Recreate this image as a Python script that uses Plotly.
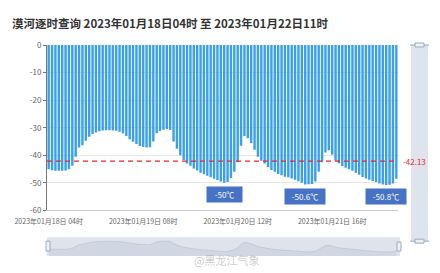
import pandas as pd
import plotly.graph_objects as go

TITLE = "漠河逐时查询 2023年01月18日04时 至 2023年01月22日11时"
START = "2023-01-18 04:00"
END = "2023-01-22 11:00"
hours = pd.date_range(START, END, freq="h")
categories = [f"{t.year}年{t.month:02d}月{t.day:02d}日 {t.hour:02d}时" for t in hours]

temps = [
    -45.1, -45.4, -45.6, -45.6, -45.6, -45.5, -45.1, -43.8, -40.5, -37.2,
    -36.4, -34.7, -33.3, -32.3, -31.7, -31.3, -31.0, -30.9, -30.9, -31.0,
    -31.1, -31.5, -32.1, -33.0, -34.2, -35.1, -35.9, -36.6, -37.0, -37.2,
    -37.1, -35.0, -32.0, -31.2, -30.7, -30.5, -30.8, -35.0, -37.6, -40.0,
    -41.7, -43.0, -43.8, -44.8, -45.5, -46.3, -46.9, -47.4, -48.0, -48.5,
    -49.0, -49.5, -50.0, -49.7, -48.2, -46.0, -42.5, -36.5, -33.0, -33.8,
    -35.5, -38.0, -40.5, -42.0, -43.0, -44.3, -45.3, -46.0, -46.8, -47.2,
    -47.8, -48.0, -48.4, -48.9, -49.4, -50.0, -50.6, -50.5, -50.4, -49.5,
    -46.0, -42.5, -39.0, -38.2, -39.8, -42.0, -42.9, -43.9, -44.5, -45.1,
    -45.6, -46.3, -47.1, -47.9, -48.4, -48.9, -49.3, -49.7, -50.2, -50.6,
    -50.8, -50.7, -50.2, -48.5,
]

x_tick_labels = ["2023年01月18日 04时", "2023年01月19日 08时",
                 "2023年01月20日 12时", "2023年01月21日 16时"]
y_tick_vals = [-60, -50, -40, -30, -20, -10, 0]
y_tick_text = ["-60", "-50", "-40", "-30", "-20", "-10", "0"]

avg_temp = -42.13
avg_label = "-42.13"

mark_cats = ["2023年01月20日 08时", "2023年01月21日 08时", "2023年01月22日 08时"]
mark_vals = [-50.0, -50.6, -50.8]
mark_labels = ["-50℃", "-50.6℃", "-50.8℃"]

W, H = 440, 273
L, R, T, B = 47, 42, 45, 15
PW, PH = W - L - R, H - T - B


def px_x(p):
    return (p - L) / PW


def px_y(p):
    return (H - B - p) / PH


FONT = "Noto Sans CJK SC"
BAR_COLOR = "#3aa0ec"
SLIDER_BG = "#dfe4ec"
HANDLE = "#9aabc0"

fig = go.Figure()

fig.add_trace(go.Bar(
    x=categories, y=temps, marker=dict(color=BAR_COLOR, line=dict(width=0)),
    xaxis="x", yaxis="y", showlegend=False,
))

# slider silhouette
fig.add_trace(go.Scatter(
    x=categories, y=[-80] * len(categories), mode="lines",
    line=dict(width=0), xaxis="x2", yaxis="y2", showlegend=False,
))
fig.add_trace(go.Scatter(
    x=categories, y=temps, mode="lines", fill="tonexty",
    fillcolor="rgba(150,165,188,0.2)",
    line=dict(color="rgba(150,165,188,0.4)", width=0.8, shape="spline"),
    xaxis="x2", yaxis="y2", showlegend=False,
))

shapes = [
    # bottom slider background
    dict(type="rect", xref="paper", yref="paper", x0=px_x(47), x1=px_x(400),
         y0=px_y(258), y1=px_y(239), fillcolor=SLIDER_BG, line=dict(width=0),
         layer="below"),
    # bottom slider handles
    dict(type="rect", xref="paper", yref="paper", x0=px_x(46), x1=px_x(50),
         y0=px_y(253), y1=px_y(243), fillcolor="#eef1f6",
         line=dict(color=HANDLE, width=1)),
    dict(type="rect", xref="paper", yref="paper", x0=px_x(397), x1=px_x(401),
         y0=px_y(253), y1=px_y(244), fillcolor="#eef1f6",
         line=dict(color=HANDLE, width=1)),
    # right vertical slider
    dict(type="rect", xref="paper", yref="paper", x0=px_x(411), x1=px_x(428),
         y0=px_y(243), y1=px_y(45), fillcolor=SLIDER_BG, line=dict(width=0),
         layer="below"),
    dict(type="line", xref="paper", yref="paper", x0=px_x(410), x1=px_x(429),
         y0=px_y(45), y1=px_y(45), line=dict(color=HANDLE, width=1)),
    dict(type="line", xref="paper", yref="paper", x0=px_x(410), x1=px_x(429),
         y0=px_y(243), y1=px_y(243), line=dict(color=HANDLE, width=1)),
    dict(type="rect", xref="paper", yref="paper", x0=px_x(415), x1=px_x(424),
         y0=px_y(47), y1=px_y(43), fillcolor="#eef1f6",
         line=dict(color=HANDLE, width=1)),
    dict(type="rect", xref="paper", yref="paper", x0=px_x(415), x1=px_x(424),
         y0=px_y(245), y1=px_y(241), fillcolor="#eef1f6",
         line=dict(color=HANDLE, width=1)),
    # average mark line
    dict(type="line", xref="x domain", yref="y", x0=0, x1=1,
         y0=avg_temp, y1=avg_temp,
         line=dict(color="#e8262b", width=1.2, dash="5px,4px")),
]

annotations = [
    dict(text=avg_label, xref="paper", yref="y", x=1, y=avg_temp,
         xanchor="left", yanchor="middle", xshift=3, showarrow=False,
         font=dict(family=FONT, size=8, color="#e8262b")),
    dict(text="@黑龙江气象", xref="paper", yref="paper", x=px_x(227),
         y=px_y(262), xanchor="center", yanchor="middle", showarrow=False,
         font=dict(family=FONT, size=11, color="rgba(170,170,170,0.6)")),
]
for c, v, t in zip(mark_cats, mark_vals, mark_labels):
    annotations.append(dict(
        text=t, x=c, y=v, xref="x", yref="y", yanchor="top", xanchor="center",
        yshift=-3, showarrow=False, bgcolor="#4673c5",
        width=31 if len(t) < 5 else 36, height=11, borderpad=2,
        font=dict(family=FONT, size=8, color="white"),
    ))

fig.update_layout(
    width=W, height=H,
    margin=dict(l=L, r=R, t=T, b=B),
    paper_bgcolor="white", plot_bgcolor="white",
    bargap=0.28,
    title=dict(text="<b>" + TITLE + "</b>", x=12 / W, xanchor="left",
               y=1 - 24 / H, yanchor="middle",
               font=dict(family=FONT, size=11.5, color="#333333")),
    xaxis=dict(type="category", domain=[0, 1], anchor="y",
               range=[-0.5, len(categories) - 0.5],
               tickvals=x_tick_labels, ticktext=x_tick_labels,
               ticks="", ticklabelstandoff=4,
               showgrid=False, showline=True, linecolor="#cccccc",
               tickfont=dict(family=FONT, size=7, color="#666666")),
    yaxis=dict(domain=[px_y(212), 1], anchor="x", range=[-60, 0],
               tickvals=y_tick_vals, ticktext=y_tick_text,
               ticks="outside", ticklen=3, tickcolor="#777777",
               showline=True, linecolor="#777777", linewidth=1,
               gridcolor="#e6e6e6", zeroline=False,
               tickfont=dict(family=FONT, size=8, color="#666666")),
    xaxis2=dict(type="category", domain=[0, 1], anchor="y2",
                range=[-0.5, len(categories) - 0.5], visible=False),
    yaxis2=dict(domain=[0, px_y(239)], anchor="x2", range=[-58.4, -23],
                visible=False),
    shapes=shapes,
    annotations=annotations,
)

fig.write_html("out.html")
